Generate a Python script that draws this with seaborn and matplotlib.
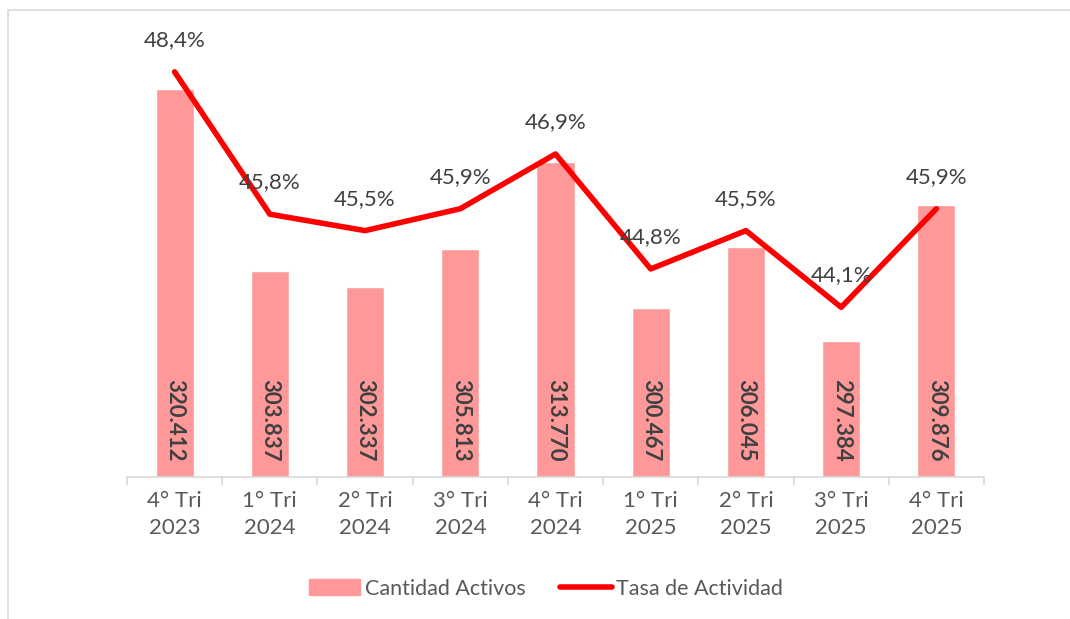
import matplotlib
matplotlib.use("Agg")
import matplotlib.pyplot as plt
import matplotlib.patches as mpatches
from matplotlib.lines import Line2D
import numpy as np
import seaborn as sns

# data
trimestres = ["4° Tri\n2023", "1° Tri\n2024", "2° Tri\n2024", "3° Tri\n2024", "4° Tri\n2024",
              "1° Tri\n2025", "2° Tri\n2025", "3° Tri\n2025", "4° Tri\n2025"]
activos = [320412, 303837, 302337, 305813, 313770, 300467, 306045, 297384, 309876]
tasa = [48.4, 45.8, 45.5, 45.9, 46.9, 44.8, 45.5, 44.1, 45.9]

sns.set_theme(style="white")
plt.rcParams['font.family'] = ['Lato', 'DejaVu Sans']

bar_color = '#FF9999'
line_color = '#FF0000'
text_color = '#595959'
grid_color = '#D9D9D9'

fig = plt.figure(figsize=(10.70, 6.19), dpi=100)
ax = fig.add_axes([127 / 1070, 142 / 619, 857 / 1070, 438 / 619])

x = np.arange(len(trimestres))
sns.barplot(x=x, y=activos, ax=ax, color=bar_color, width=0.4, saturation=1, native_scale=True)
ax.set_xlim(-0.5, len(trimestres) - 0.5)
ax.set_ylim(285000, 325000)

ax2 = ax.twinx()
sns.lineplot(x=x, y=tasa, ax=ax2, color=line_color, linewidth=4, solid_capstyle='round')
ax2.set_ylim(41, 49)
ax2.set_xlim(-0.5, len(trimestres) - 0.5)

# bar labels, rotated, near the base
for i, v in enumerate(activos):
    ax.annotate(f"{v:,}".replace(",", "."), xy=(i, 285000), xytext=(0, 41),
                textcoords='offset points', rotation=270, ha='center', va='center',
                fontsize=16, fontweight='bold', color='#404040')

# line labels above the points
for i, v in enumerate(tasa):
    ax2.annotate(f"{v:.1f}%".replace(".", ","), xy=(i, v), xytext=(0, 23),
                 textcoords='offset points', ha='center', va='center',
                 fontsize=16, color='#404040')

for a in (ax, ax2):
    for s in ['top', 'right', 'left']:
        a.spines[s].set_visible(False)
    a.set_yticks([])
    a.set_ylabel('')
ax2.spines['bottom'].set_visible(False)
ax.spines['bottom'].set_color(grid_color)
ax.spines['bottom'].set_linewidth(1.2)

ax.set_xticks(x)
ax.set_xticklabels(trimestres, fontsize=16, color=text_color, linespacing=1.45)
ax.tick_params(axis='x', which='major', length=0, pad=10)
ax.set_xticks(np.arange(-0.5, len(trimestres)), minor=True)
ax.tick_params(axis='x', which='minor', length=6, color=grid_color, width=1.2, bottom=True)

handles = [mpatches.Patch(color=bar_color, label='Cantidad Activos'),
           Line2D([0], [0], color=line_color, lw=4, solid_capstyle='round', label='Tasa de Actividad')]
fig.legend(handles=handles, loc='center', bbox_to_anchor=(0.51, 0.049), ncol=2, frameon=False,
           fontsize=15.5, labelcolor=text_color, handlelength=2.4, handleheight=0.8,
           handletextpad=0.2, columnspacing=1.6)

# light frame around the chart area
fig.patches.append(mpatches.Rectangle((8 / 1070, -0.1), 1.2, (619 - 10) / 619 + 0.1,
                                      transform=fig.transFigure, fill=False,
                                      edgecolor=grid_color, linewidth=1.2))

fig.savefig('out.png', dpi=100)
